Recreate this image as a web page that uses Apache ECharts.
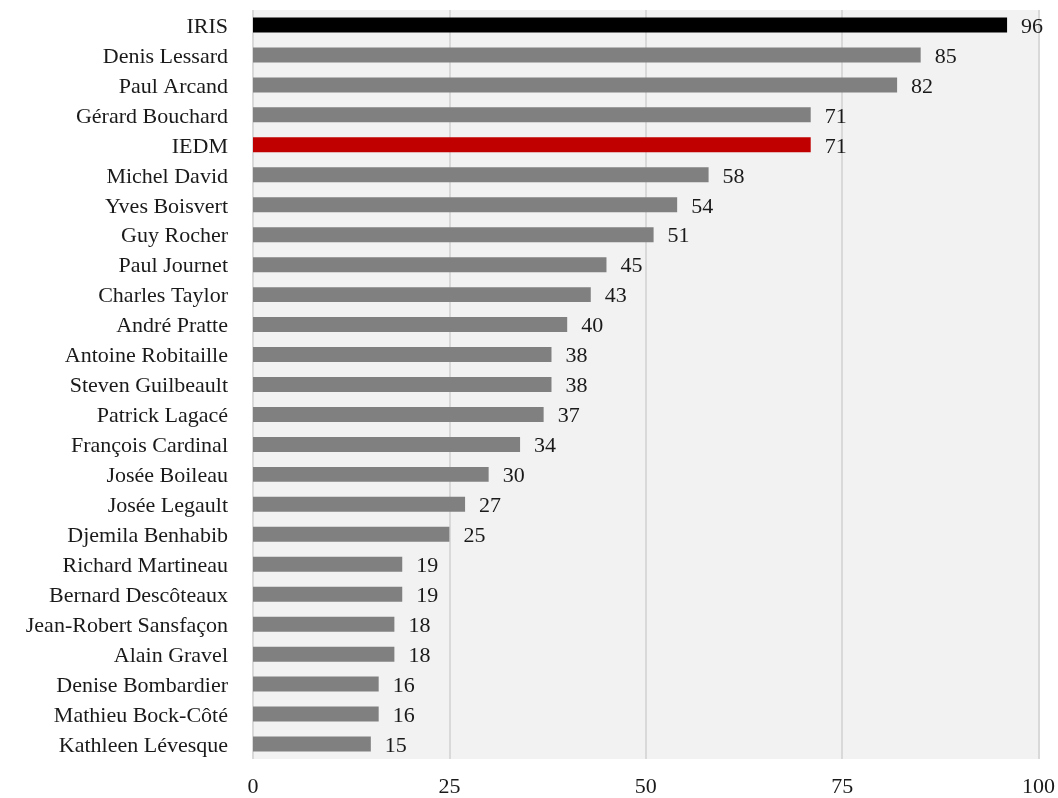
<!DOCTYPE html>
<html>
<head>
<meta charset="utf-8">
<script src="https://cdn.jsdelivr.net/npm/echarts@6/dist/echarts.min.js"></script>
<style>
html,body{margin:0;padding:0;background:#fff;}
#c{width:1058px;height:798px;}
</style>
</head>
<body>
<div id="c"></div>
<script>
const categories = ["IRIS","Denis Lessard","Paul Arcand","Gérard Bouchard","IEDM","Michel David","Yves Boisvert","Guy Rocher","Paul Journet","Charles Taylor","André Pratte","Antoine Robitaille","Steven Guilbeault","Patrick Lagacé","François Cardinal","Josée Boileau","Josée Legault","Djemila Benhabib","Richard Martineau","Bernard Descôteaux","Jean-Robert Sansfaçon","Alain Gravel","Denise Bombardier","Mathieu Bock-Côté","Kathleen Lévesque"];
const values = [96,85,82,71,71,58,54,51,45,43,40,38,38,37,34,30,27,25,19,19,18,18,16,16,15];
const highlight = {"IRIS":"#000000","IEDM":"#c00000"};
const baseColor = "#808080";
const xTicks = [0,25,50,75,100];

const font = "'Liberation Serif', 'DejaVu Serif', serif";
const chart = echarts.init(document.getElementById('c'));
chart.setOption({
  animation:false,
  textStyle:{fontFamily:font},
  grid:{left:253,right:19,top:10,bottom:38,show:true,backgroundColor:'#f2f2f2',borderWidth:0,containLabel:false},
  xAxis:{type:'value',min:xTicks[0],max:xTicks[xTicks.length-1],interval:25,
    axisLine:{show:false},axisTick:{show:false},
    axisLabel:{color:'#1a1a1a',fontSize:22,fontFamily:font,margin:17},
    splitLine:{show:true,lineStyle:{color:'#d9d9d9',width:2}}},
  yAxis:{type:'category',data:categories,inverse:true,
    axisLine:{show:false},axisTick:{show:false},
    axisLabel:{margin:25,formatter:v=>'{a|'+v+'}',
      rich:{a:{color:'#1a1a1a',fontSize:22,fontFamily:font,padding:[4,0,0,0]}}}},
  series:[{type:'bar',barCategoryGap:'50%',
    data:values.map((v,i)=>({value:v,itemStyle:{color:highlight[categories[i]]||baseColor}})),
    label:{show:true,position:'right',distance:14,offset:[0,2],color:'#1a1a1a',fontSize:22,fontFamily:font}}]
});
</script>
</body>
</html>
